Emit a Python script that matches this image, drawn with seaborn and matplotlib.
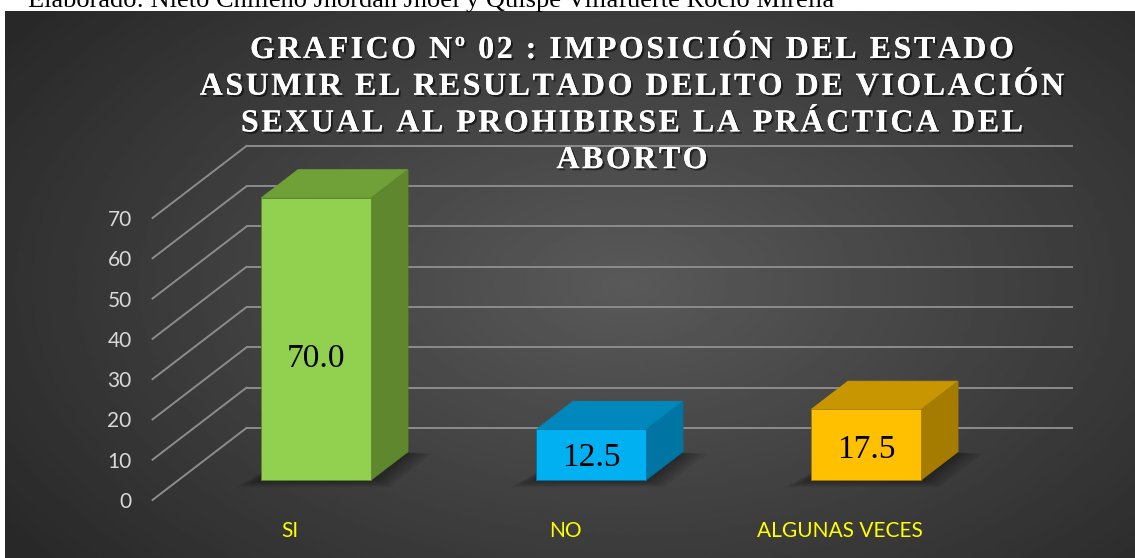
import matplotlib
matplotlib.use("Agg")
import matplotlib.pyplot as plt
import matplotlib.patheffects as pe
from matplotlib.font_manager import FontProperties, findfont
from matplotlib.patches import Polygon
import numpy as np
import pandas as pd
import seaborn as sns

# data
categories = ["SI", "NO", "ALGUNAS VECES"]
percentages = [70.0, 12.5, 17.5]
y_ticks = [0, 10, 20, 30, 40, 50, 60, 70]
title_lines = [
    "GRAFICO Nº 02 : IMPOSICIÓN DEL ESTADO",
    "ASUMIR EL RESULTADO DELITO DE VIOLACIÓN",
    "SEXUAL AL PROHIBIRSE LA PRÁCTICA DEL",
    "ABORTO",
]
source_note = "Elaborado: Nieto Chilleno Jhordan Jhoel y Quispe Villafuerte Rocío Mirella"

# bar colours (front, top, side)
front_colors = ["#92D050", "#00B0F0", "#FFC000"]
top_colors = ["#70A038", "#0088BC", "#C89600"]
side_colors = ["#5E872E", "#0074A2", "#A57C00"]

# fake 3d: how far the full floor depth shifts in data units
DEPTH_DX = 0.342
DEPTH_DY = 17.9
BAR_FRONT = 0.28
BAR_DEPTH = 0.39

W, H = 1135, 558
fig = plt.figure(figsize=(W / 100, H / 100), dpi=100)
fig.patch.set_facecolor("white")

serif = "Liberation Serif"
if "Serif" not in findfont(FontProperties(family=serif, weight="bold")):
    serif = "DejaVu Serif"

# source line of the page, mostly hidden behind the chart
fig.text(28 / W, 1 - 7.5 / H, source_note, family=serif, fontsize=19,
         color="black", va="baseline", zorder=0)

# dark chart area with a soft radial gradient
bg = fig.add_axes([5 / W, 0, 1 - 5 / W, 1 - 11 / H])
yy, xx = np.mgrid[0:1:280j, 0:1:560j]
r = np.sqrt(((xx - 0.55) / 0.7) ** 2 + ((yy - 0.5) / 0.85) ** 2)
shade = np.clip(0.35 - 0.2 * r, 0.16, 0.35)
bg.imshow(shade, cmap="gray", vmin=0, vmax=1, aspect="auto", interpolation="bilinear")
bg.set_axis_off()

# front plane of the floor
ax = fig.add_axes([152.5 / W, 58 / H, 825 / W, 282 / H])
ax.patch.set_alpha(0)
df = pd.DataFrame({"categoria": categories, "porcentaje": percentages})
sns.barplot(data=df, x="categoria", y="porcentaje", hue="categoria",
            palette=front_colors, saturation=1, width=0.4, legend=False,
            edgecolor="none", ax=ax, zorder=5)
ax.set_xlim(-0.5, 2.5)
ax.set_ylim(0, 70)
ax.set_xlabel("")
ax.set_ylabel("")
for s in ax.spines.values():
    s.set_visible(False)
ax.set_yticks(y_ticks)
ax.tick_params(axis="y", length=0, pad=15, labelsize=15, labelcolor="#D9D9D9")
ax.tick_params(axis="x", length=0, pad=15, labelsize=15, labelcolor="#FFFF00")
for lab in ax.get_xticklabels() + ax.get_yticklabels():
    lab.set_family("Lato")

# walls: back wall gridlines and left wall diagonals
x0, x1 = ax.get_xlim()
grid_kw = dict(color="#8C8C8C", lw=1.4, clip_on=False, zorder=1)
for v in y_ticks:
    ax.plot([x0 + DEPTH_DX, x1 + DEPTH_DX], [v + DEPTH_DY, v + DEPTH_DY], **grid_kw)
    ax.plot([x0, x0 + DEPTH_DX], [v, v + DEPTH_DY], **grid_kw)

# extrude the seaborn bars into boxes
ox, oy = BAR_FRONT * DEPTH_DX, BAR_FRONT * DEPTH_DY
bx, by = BAR_DEPTH * DEPTH_DX, BAR_DEPTH * DEPTH_DY
for i, p in enumerate(ax.patches):
    x, w, h = p.get_x(), p.get_width(), p.get_height()
    p.set_xy((x + ox, oy))
    p.set_clip_on(False)
    p.set_edgecolor(side_colors[i])
    p.set_linewidth(0.6)
    xl, xr = x + ox, x + w + ox
    # soft floor shadow
    for k in range(1, 7):
        g = 0.011 * k
        d = 0.3 * k
        ax.add_patch(Polygon([(xl - 1.4 * g, oy - d), (xr + g, oy - d),
                              (xr + bx + 1.3 * g, oy + by - 0.3 * d), (xl + bx, oy + by)],
                             closed=True, facecolor="black", alpha=0.07, lw=0,
                             clip_on=False, zorder=3))
    ax.add_patch(Polygon([(xl, h + oy), (xr, h + oy), (xr + bx, h + oy + by), (xl + bx, h + oy + by)],
                         closed=True, facecolor=top_colors[i], edgecolor=top_colors[i],
                         lw=0.6, clip_on=False, zorder=4))
    ax.add_patch(Polygon([(xr, oy), (xr, h + oy), (xr + bx, h + oy + by), (xr + bx, oy + by)],
                         closed=True, facecolor=side_colors[i], edgecolor=side_colors[i],
                         lw=0.6, clip_on=False, zorder=4))
    ax.text(x + w / 2 + ox, oy + 0.43 * h, f"{percentages[i]:.1f}", ha="center", va="center",
            family=serif, fontsize=24, color="black", zorder=6)

# title with expanded letter spacing, set glyph by glyph
renderer = fig.canvas.get_renderer()
tprop = FontProperties(family=serif, weight="bold", size=23)
spacing = 2.5
shadow = [pe.withSimplePatchShadow(offset=(1.5, -1.5), shadow_rgbFace="black", alpha=0.55),
          pe.Normal()]


def advance(ch):
    both = renderer.get_text_width_height_descent("H" + ch + "H", tprop, ismath=False)[0]
    pair = renderer.get_text_width_height_descent("HH", tprop, ismath=False)[0]
    return both - pair


for n, line in enumerate(title_lines):
    widths = [advance(ch) for ch in line]
    total = sum(widths) + spacing * (len(line) - 1)
    xpos = 632 - total / 2
    base = 58 + 36.7 * n
    for ch, cw in zip(line, widths):
        if ch != " ":
            fig.text(xpos / W, 1 - base / H, ch, fontproperties=tprop, color="white",
                     va="baseline", ha="left", path_effects=shadow)
        xpos += cw + spacing

fig.savefig("out.png", dpi=100)
